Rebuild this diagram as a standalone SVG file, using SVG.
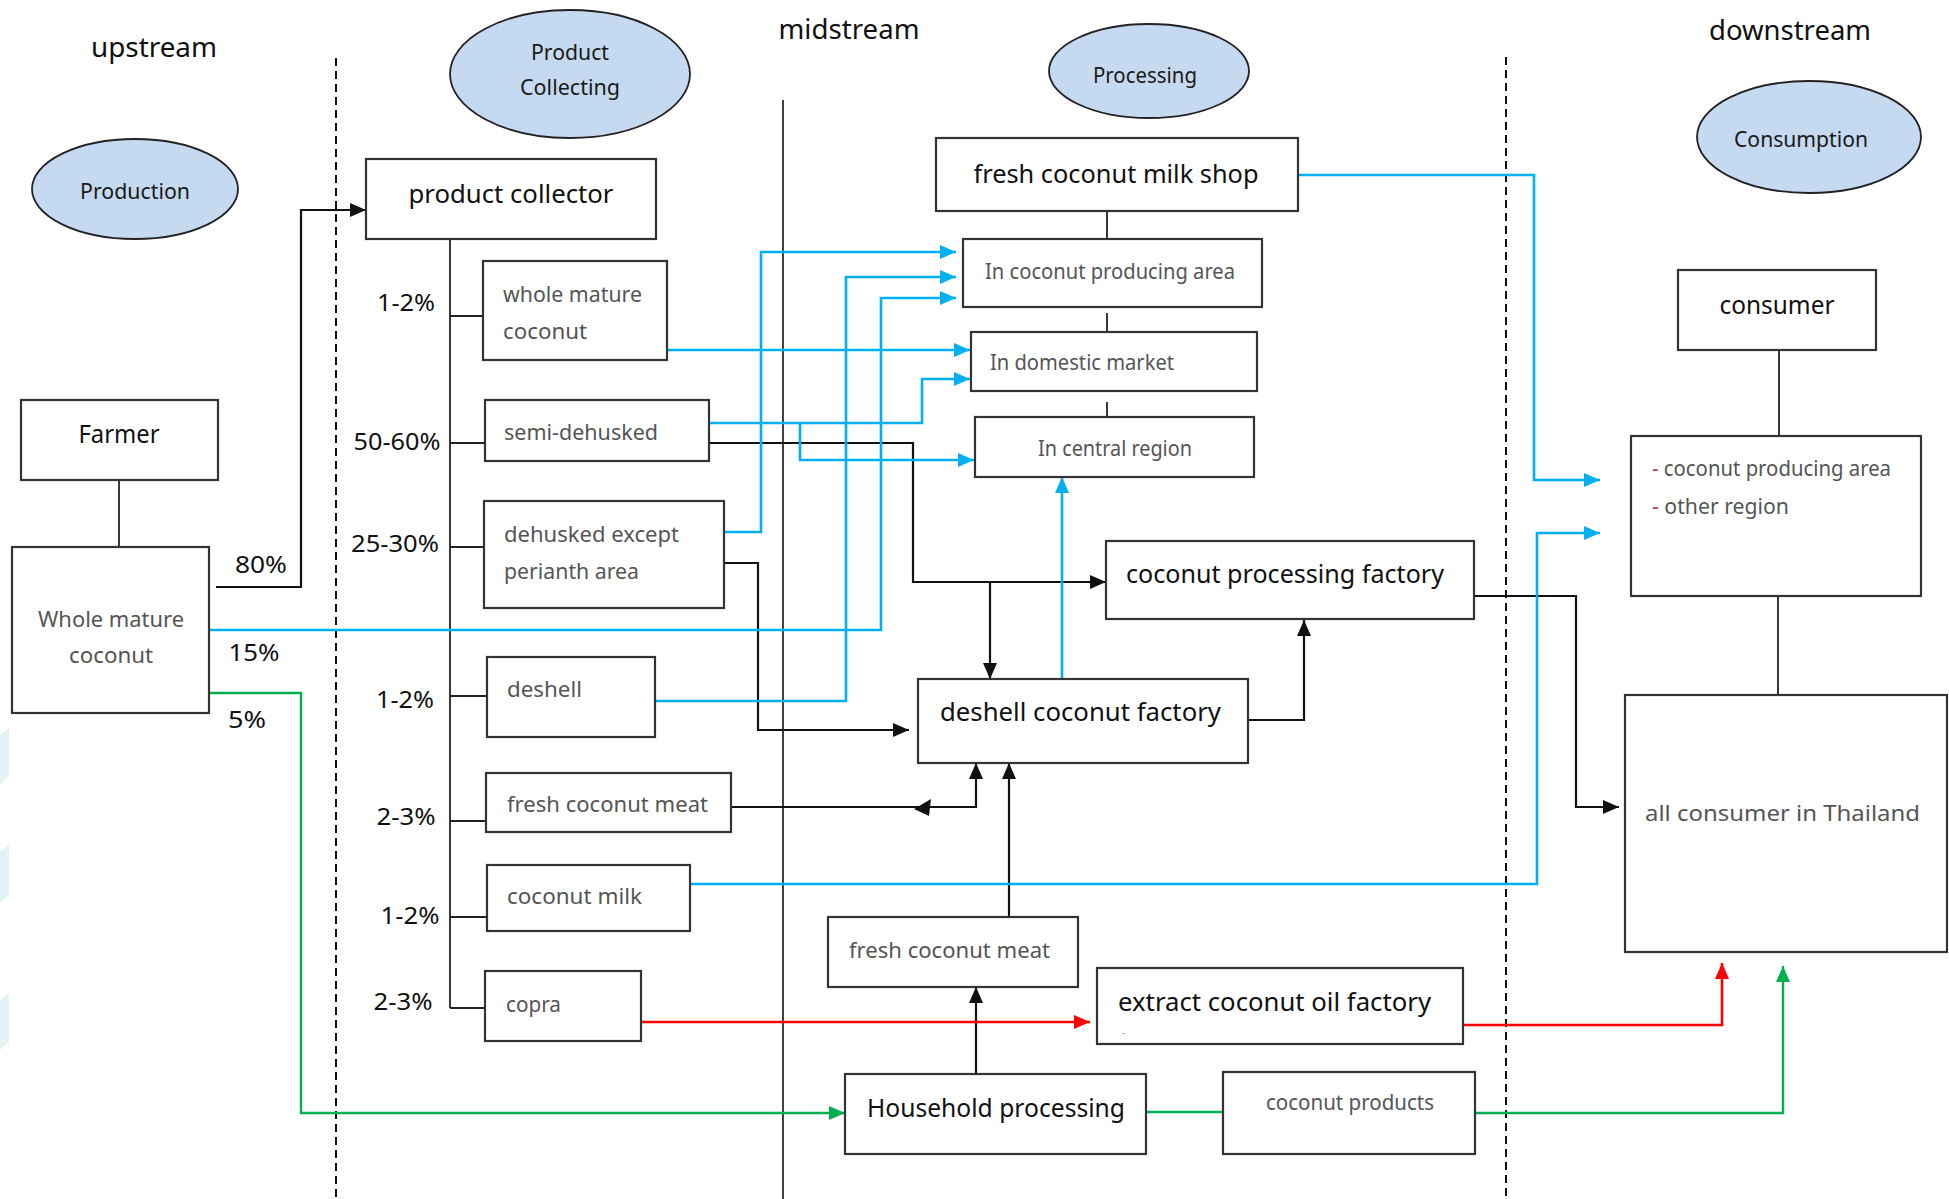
<svg xmlns="http://www.w3.org/2000/svg" width="1949" height="1199" viewBox="0 0 1949 1199">
<style>
  .box { fill: #ffffff; stroke: #333333; stroke-width: 2.2; }
  .ell { fill: #c5d9f1; stroke: #222222; stroke-width: 1.8; }
  .t { font-family: "Noto Sans", "Open Sans", sans-serif; }
  .head { font-size: 27px; fill: #111111; }
  .elab { font-size: 21px; fill: #1a1a1a; }
  .main { font-size: 25px; fill: #111111; }
  .sub { font-size: 22px; fill: #555555; }
  .pct { font-size: 23px; fill: #111111; }
  .blk { fill: none; stroke: #111111; stroke-width: 2.2; }
  .blu { fill: none; stroke: #00b0f0; stroke-width: 2.6; }
  .red { fill: none; stroke: #ff0000; stroke-width: 2.6; }
  .grn { fill: none; stroke: #00b050; stroke-width: 2.4; }
  .thin { fill: none; stroke: #222222; stroke-width: 1.8; }
</style>
<defs>
  <marker id="aBlk" markerUnits="userSpaceOnUse" markerWidth="16" markerHeight="14" refX="16" refY="7" orient="auto"><path d="M0,0 L16,7 L0,14 z" fill="#111111"/></marker>
  <marker id="aBlu" markerUnits="userSpaceOnUse" markerWidth="16" markerHeight="14" refX="16" refY="7" orient="auto"><path d="M0,0 L16,7 L0,14 z" fill="#00b0f0"/></marker>
  <marker id="aRed" markerUnits="userSpaceOnUse" markerWidth="16" markerHeight="14" refX="16" refY="7" orient="auto"><path d="M0,0 L16,7 L0,14 z" fill="#ff0000"/></marker>
  <marker id="aGrn" markerUnits="userSpaceOnUse" markerWidth="16" markerHeight="14" refX="16" refY="7" orient="auto"><path d="M0,0 L16,7 L0,14 z" fill="#00b050"/></marker>
</defs>
<rect x="0" y="0" width="1949" height="1199" fill="#ffffff"/>

<!-- faint background marks at left edge -->
<g id="bgmarks" fill="#e2f3f3">
  <polygon points="0,735 9,728 9,775 0,785"/>
  <polygon points="0,852 9,845 9,895 0,902"/>
  <polygon points="0,1000 9,993 9,1042 0,1050"/>
</g>

<!-- stage headings and separators -->
<g id="stages">
  <text class="t head" x="154" y="57" text-anchor="middle" textLength="126" lengthAdjust="spacingAndGlyphs">upstream</text>
  <text class="t head" x="849" y="39" text-anchor="middle" textLength="141" lengthAdjust="spacingAndGlyphs">midstream</text>
  <text class="t head" x="1790" y="40" text-anchor="middle" textLength="162" lengthAdjust="spacingAndGlyphs">downstream</text>
  <line x1="336" y1="58" x2="336" y2="1199" stroke="#111" stroke-width="2" stroke-dasharray="8,5"/>
  <line x1="1506" y1="57" x2="1506" y2="1199" stroke="#111" stroke-width="2" stroke-dasharray="8,5"/>
  <line x1="783" y1="100" x2="783" y2="1199" stroke="#111" stroke-width="1.6"/>
</g>

<!-- phase ellipses -->
<g id="ell-production">
  <ellipse class="ell" cx="135" cy="189" rx="103" ry="50"/>
  <text class="t elab" x="135" y="199" text-anchor="middle" textLength="110" lengthAdjust="spacingAndGlyphs">Production</text>
</g>
<g id="ell-collecting">
  <ellipse class="ell" cx="570" cy="74" rx="120" ry="64"/>
  <text class="t elab" x="570" y="60" text-anchor="middle" textLength="78" lengthAdjust="spacingAndGlyphs">Product</text>
  <text class="t elab" x="570" y="95" text-anchor="middle" textLength="100" lengthAdjust="spacingAndGlyphs">Collecting</text>
</g>
<g id="ell-processing">
  <ellipse class="ell" cx="1149" cy="71" rx="100" ry="47"/>
  <text class="t elab" x="1145" y="83" text-anchor="middle" textLength="104" lengthAdjust="spacingAndGlyphs">Processing</text>
</g>
<g id="ell-consumption">
  <ellipse class="ell" cx="1809" cy="137" rx="112" ry="56"/>
  <text class="t elab" x="1801" y="147" text-anchor="middle" textLength="134" lengthAdjust="spacingAndGlyphs">Consumption</text>
</g>

<!-- connectors -->
<g id="connectors">
  <!-- plain black links -->
  <line class="thin" x1="119" y1="480" x2="119" y2="547"/>
  <line class="thin" x1="450" y1="239" x2="450" y2="1008"/>
  <line class="thin" x1="450" y1="316" x2="483" y2="316"/>
  <line class="thin" x1="450" y1="443" x2="485" y2="443"/>
  <line class="thin" x1="450" y1="547" x2="484" y2="547"/>
  <line class="thin" x1="450" y1="696" x2="487" y2="696"/>
  <line class="thin" x1="450" y1="821" x2="486" y2="821"/>
  <line class="thin" x1="450" y1="917" x2="487" y2="917"/>
  <line class="thin" x1="450" y1="1008" x2="485" y2="1008"/>
  <line class="thin" x1="1107" y1="211" x2="1107" y2="239"/>
  <line class="thin" x1="1107" y1="313" x2="1107" y2="332"/>
  <line class="thin" x1="1107" y1="402" x2="1107" y2="417"/>
  <line class="thin" x1="1779" y1="350" x2="1779" y2="436"/>
  <line class="thin" x1="1778" y1="596" x2="1778" y2="695"/>

  <!-- black arrows -->
  <polyline class="blk" points="216,587 301,587 301,210 366,210" marker-end="url(#aBlk)"/>
  <polyline class="blk" points="709,443 913,443 913,582 1106,582" marker-end="url(#aBlk)"/>
  <polyline class="blk" points="990,582 990,679" marker-end="url(#aBlk)"/>
  <polyline class="blk" points="724,563 758,563 758,730 909,730" marker-end="url(#aBlk)"/>
  <polyline class="blk" points="731,807 976,807 976,763" marker-end="url(#aBlk)"/>
  <polygon points="914,809 931,799 929,816" fill="#111111"/>
  <polyline class="blk" points="1248,720 1304,720 1304,620" marker-end="url(#aBlk)"/>
  <polyline class="blk" points="1009,917 1009,763" marker-end="url(#aBlk)"/>
  <polyline class="blk" points="976,1074 976,987" marker-end="url(#aBlk)"/>
  <polyline class="blk" points="1474,596 1576,596 1576,807 1619,807" marker-end="url(#aBlk)"/>

  <!-- blue arrows -->
  <polyline class="blu" points="1298,175 1534,175 1534,480 1600,480" marker-end="url(#aBlu)"/>
  <polyline class="blu" points="667,350 970,350" marker-end="url(#aBlu)"/>
  <polyline class="blu" points="709,423 922,423 922,379 970,379" marker-end="url(#aBlu)"/>
  <polyline class="blu" points="800,423 800,460 974,460" marker-end="url(#aBlu)"/>
  <polyline class="blu" points="724,532 761,532 761,252 956,252" marker-end="url(#aBlu)"/>
  <polyline class="blu" points="655,701 846,701 846,277 956,277" marker-end="url(#aBlu)"/>
  <polyline class="blu" points="209,630 881,630 881,298 956,298" marker-end="url(#aBlu)"/>
  <polyline class="blu" points="1062,679 1062,477" marker-end="url(#aBlu)"/>
  <polyline class="blu" points="690,884 1537,884 1537,533 1600,533" marker-end="url(#aBlu)"/>

  <!-- red arrows -->
  <polyline class="red" points="641,1022 1090,1022" marker-end="url(#aRed)"/>
  <polyline class="red" points="1463,1025 1722,1025 1722,963" marker-end="url(#aRed)"/>

  <!-- green arrows -->
  <polyline class="grn" points="209,693 301,693 301,1113 845,1113" marker-end="url(#aGrn)"/>
  <polyline class="grn" points="1146,1112 1223,1112"/>
  <polyline class="grn" points="1475,1113 1783,1113 1783,966" marker-end="url(#aGrn)"/>
</g>

<!-- percentage labels -->
<g id="labels">
  <text class="t pct" x="406" y="311" text-anchor="middle" textLength="58" lengthAdjust="spacingAndGlyphs">1-2%</text>
  <text class="t pct" x="261" y="573" text-anchor="middle" textLength="52" lengthAdjust="spacingAndGlyphs">80%</text>
  <text class="t pct" x="254" y="661" text-anchor="middle" textLength="51" lengthAdjust="spacingAndGlyphs">15%</text>
  <text class="t pct" x="247" y="728" text-anchor="middle" textLength="38" lengthAdjust="spacingAndGlyphs">5%</text>
  <text class="t pct" x="397" y="450" text-anchor="middle" textLength="87" lengthAdjust="spacingAndGlyphs">50-60%</text>
  <text class="t pct" x="395" y="552" text-anchor="middle" textLength="88" lengthAdjust="spacingAndGlyphs">25-30%</text>
  <text class="t pct" x="405" y="708" text-anchor="middle" textLength="58" lengthAdjust="spacingAndGlyphs">1-2%</text>
  <text class="t pct" x="406" y="825" text-anchor="middle" textLength="59" lengthAdjust="spacingAndGlyphs">2-3%</text>
  <text class="t pct" x="410" y="924" text-anchor="middle" textLength="59" lengthAdjust="spacingAndGlyphs">1-2%</text>
  <text class="t pct" x="403" y="1010" text-anchor="middle" textLength="59" lengthAdjust="spacingAndGlyphs">2-3%</text>
</g>

<!-- upstream nodes -->
<g id="farmer">
  <rect class="box" x="21" y="400" width="197" height="80"/>
  <text class="t main" x="119" y="443" text-anchor="middle" textLength="81" lengthAdjust="spacingAndGlyphs">Farmer</text>
</g>
<g id="whole-farm">
  <rect class="box" x="12" y="547" width="197" height="166"/>
  <text class="t sub" x="111" y="627" text-anchor="middle" textLength="146" lengthAdjust="spacingAndGlyphs">Whole mature</text>
  <text class="t sub" x="111" y="663" text-anchor="middle" textLength="84" lengthAdjust="spacingAndGlyphs">coconut</text>
</g>

<!-- collecting nodes -->
<g id="collector">
  <rect class="box" x="366" y="159" width="290" height="80"/>
  <text class="t main" x="511" y="203" text-anchor="middle" textLength="205" lengthAdjust="spacingAndGlyphs">product collector</text>
</g>
<g id="c-whole">
  <rect class="box" x="483" y="261" width="184" height="99"/>
  <text class="t sub" x="503" y="302" textLength="139" lengthAdjust="spacingAndGlyphs">whole mature</text>
  <text class="t sub" x="503" y="339" textLength="84" lengthAdjust="spacingAndGlyphs">coconut</text>
</g>
<g id="c-semi">
  <rect class="box" x="485" y="400" width="224" height="61"/>
  <text class="t sub" x="504" y="440" textLength="154" lengthAdjust="spacingAndGlyphs">semi-dehusked</text>
</g>
<g id="c-dehusked">
  <rect class="box" x="484" y="501" width="240" height="107"/>
  <text class="t sub" x="504" y="542" textLength="175" lengthAdjust="spacingAndGlyphs">dehusked except</text>
  <text class="t sub" x="504" y="579" textLength="135" lengthAdjust="spacingAndGlyphs">perianth area</text>
</g>
<g id="c-deshell">
  <rect class="box" x="487" y="657" width="168" height="80"/>
  <text class="t sub" x="507" y="697" textLength="75" lengthAdjust="spacingAndGlyphs">deshell</text>
</g>
<g id="c-meat">
  <rect class="box" x="486" y="773" width="245" height="59"/>
  <text class="t sub" x="507" y="812" textLength="201" lengthAdjust="spacingAndGlyphs">fresh coconut meat</text>
</g>
<g id="c-milk">
  <rect class="box" x="487" y="865" width="203" height="66"/>
  <text class="t sub" x="507" y="904" textLength="135" lengthAdjust="spacingAndGlyphs">coconut milk</text>
</g>
<g id="c-copra">
  <rect class="box" x="485" y="971" width="156" height="70"/>
  <text class="t sub" x="506" y="1012" textLength="55" lengthAdjust="spacingAndGlyphs">copra</text>
</g>

<!-- processing nodes -->
<g id="shop">
  <rect class="box" x="936" y="138" width="362" height="73"/>
  <text class="t main" x="1116" y="183" text-anchor="middle" textLength="285" lengthAdjust="spacingAndGlyphs">fresh coconut milk shop</text>
</g>
<g id="p-area">
  <rect class="box" x="963" y="239" width="299" height="68"/>
  <text class="t sub" x="985" y="279" textLength="250" lengthAdjust="spacingAndGlyphs">In coconut producing area</text>
</g>
<g id="p-domestic">
  <rect class="box" x="971" y="332" width="286" height="59"/>
  <text class="t sub" x="990" y="370" textLength="184" lengthAdjust="spacingAndGlyphs">In domestic market</text>
</g>
<g id="p-central">
  <rect class="box" x="975" y="417" width="279" height="60"/>
  <text class="t sub" x="1038" y="456" textLength="154" lengthAdjust="spacingAndGlyphs">In central region</text>
</g>
<g id="processing-factory">
  <rect class="box" x="1106" y="541" width="368" height="78"/>
  <text class="t main" x="1126" y="583" textLength="318" lengthAdjust="spacingAndGlyphs">coconut processing factory</text>
</g>
<g id="deshell-factory">
  <rect class="box" x="918" y="679" width="330" height="84"/>
  <text class="t main" x="940" y="721" textLength="281" lengthAdjust="spacingAndGlyphs">deshell coconut factory</text>
</g>
<g id="m-meat">
  <rect class="box" x="828" y="917" width="250" height="70"/>
  <text class="t sub" x="849" y="958" textLength="201" lengthAdjust="spacingAndGlyphs">fresh coconut meat</text>
</g>
<g id="oil-factory">
  <rect class="box" x="1097" y="968" width="366" height="76"/>
  <text class="t main" x="1118" y="1011" textLength="313" lengthAdjust="spacingAndGlyphs">extract coconut oil factory</text>
  <text class="t" x="1122" y="1036" font-size="10" fill="#c08a50">-</text>
</g>
<g id="household">
  <rect class="box" x="845" y="1074" width="301" height="80"/>
  <text class="t main" x="996" y="1117" text-anchor="middle" textLength="258" lengthAdjust="spacingAndGlyphs">Household processing</text>
</g>
<g id="products">
  <rect class="box" x="1223" y="1072" width="252" height="82"/>
  <text class="t sub" x="1350" y="1110" text-anchor="middle" font-size="20" textLength="168" lengthAdjust="spacingAndGlyphs">coconut products</text>
</g>

<!-- downstream nodes -->
<g id="consumer">
  <rect class="box" x="1678" y="270" width="198" height="80"/>
  <text class="t main" x="1777" y="314" text-anchor="middle" textLength="115" lengthAdjust="spacingAndGlyphs">consumer</text>
</g>
<g id="regions">
  <rect class="box" x="1631" y="436" width="290" height="160"/>
  <text class="t sub" x="1652" y="476" textLength="239" lengthAdjust="spacingAndGlyphs"><tspan fill="#a0407a">-</tspan> coconut producing area</text>
  <text class="t sub" x="1652" y="514" textLength="137" lengthAdjust="spacingAndGlyphs"><tspan fill="#a0407a">-</tspan> other region</text>
</g>
<g id="all-consumer">
  <rect class="box" x="1625" y="695" width="322" height="257"/>
  <text class="t sub" x="1645" y="821" fill="#444" textLength="275" lengthAdjust="spacingAndGlyphs">all consumer in Thailand</text>
</g>
</svg>
